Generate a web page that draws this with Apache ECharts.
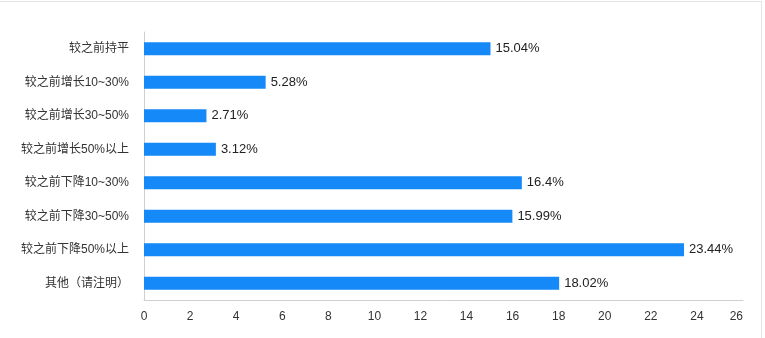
<!DOCTYPE html>
<html>
<head>
<meta charset="utf-8">
<script src="https://cdn.jsdelivr.net/npm/echarts@6/dist/echarts.min.js"></script>
<style>
  html, body { margin: 0; padding: 0; background: #fff; }
  #wrap { position: relative; width: 765px; height: 338px; }
  #chart { position: absolute; left: 0; top: 0; width: 765px; height: 338px; }
  #frame { position: absolute; left: 0; top: 1px; width: 762px; height: 337px;
           border-top: 1px solid #e4e4e4; border-right: 1px solid #e4e4e4;
           box-sizing: border-box; pointer-events: none; }
</style>
</head>
<body>
<div id="wrap">
  <div id="chart"></div>
  <div id="frame"></div>
</div>
<script>
// Answer options and their shares (%)
const categories = [
  '较之前持平',
  '较之前增长10~30%',
  '较之前增长30~50%',
  '较之前增长50%以上',
  '较之前下降10~30%',
  '较之前下降30~50%',
  '较之前下降50%以上',
  '其他（请注明）'
];
const shares = [15.04, 5.28, 2.71, 3.12, 16.4, 15.99, 23.44, 18.02];
const xTicks = [0, 2, 4, 6, 8, 10, 12, 14, 16, 18, 20, 22, 24, 26];

const font = '"Liberation Sans", Arial, "Noto Sans CJK SC", sans-serif';
const chart = echarts.init(document.getElementById('chart'));
chart.setOption({
  animation: false,
  grid: { left: 144, right: 22, top: 32, bottom: 38 },
  xAxis: {
    type: 'value',
    min: xTicks[0],
    max: xTicks[xTicks.length - 1],
    interval: xTicks[1] - xTicks[0],
    axisLine: { show: true, lineStyle: { color: '#cfcfcf', width: 1 } },
    axisTick: { show: false },
    splitLine: { show: false },
    axisLabel: {
      color: '#333', fontSize: 12, fontFamily: font, margin: 11,
      alignMaxLabel: 'right'
    }
  },
  yAxis: {
    type: 'category',
    inverse: true,
    data: categories,
    axisLine: { show: true, lineStyle: { color: '#cfcfcf', width: 1 } },
    axisTick: { show: false },
    axisLabel: { color: '#333', fontSize: 12, fontFamily: font, margin: 15 }
  },
  series: [{
    type: 'bar',
    data: shares,
    barWidth: 13,
    itemStyle: { color: '#1589f7' },
    label: {
      show: true,
      position: 'right',
      distance: 5,
      color: '#222',
      fontSize: 13,
      fontFamily: font,
      formatter: p => p.value + '%'
    }
  }]
});
</script>
</body>
</html>
